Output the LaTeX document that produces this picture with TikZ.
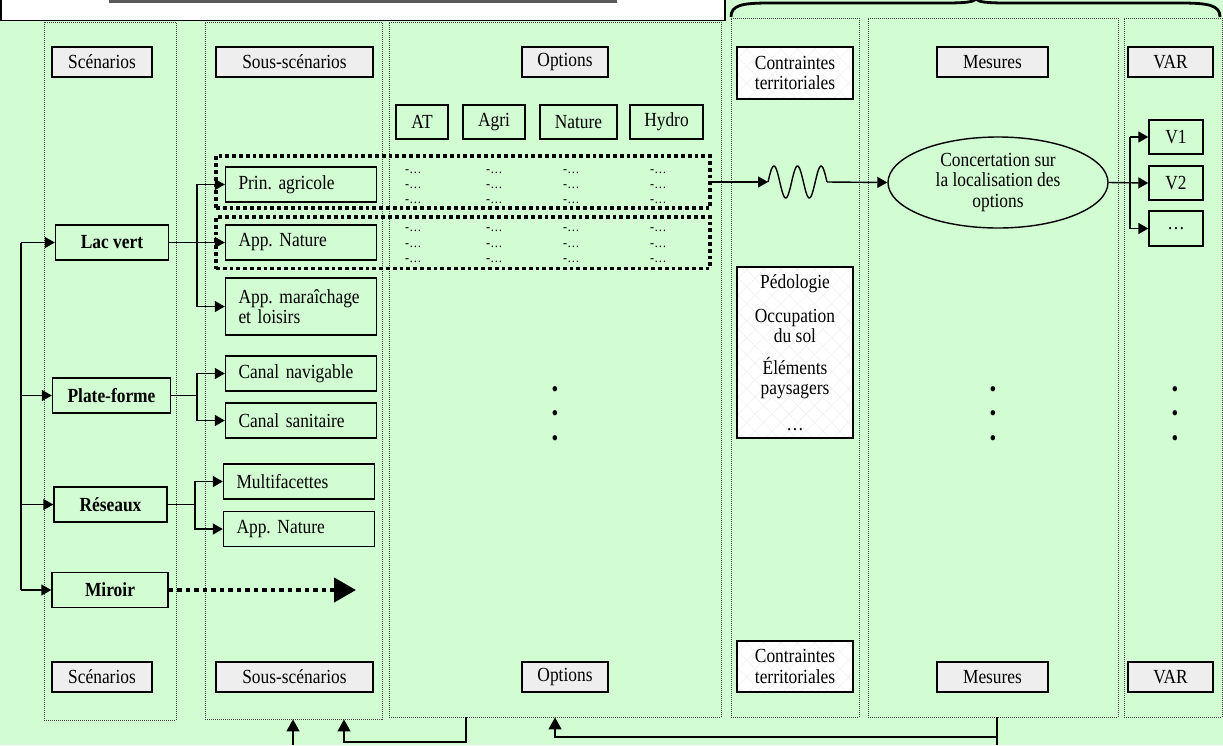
\documentclass[tikz,border=0pt]{standalone}
\usepackage{fontspec}
\setmainfont{Liberation Serif}[FakeStretch=0.87]
\usetikzlibrary{arrows.meta,shapes.geometric,fit,patterns.meta}
\definecolor{bg}{RGB}{210,252,210}
\definecolor{hdrgray}{RGB}{238,238,238}
\definecolor{bargray}{RGB}{90,90,90}
\begin{document}
\frenchspacing
\begin{tikzpicture}[x=1pt,y=-1pt, font=\fontsize{20}{20.5}\selectfont,
  col/.style={draw=black!75, line width=0.8pt, dash pattern=on 1pt off 1pt, inner sep=0pt},
  hdr/.style={draw, line width=1.4pt, fill=hdrgray, minimum height=30pt, inner sep=0pt},
  hatch/.style={draw, line width=1.4pt, inner sep=0pt,
     preaction={fill=white},
     preaction={pattern={Lines[angle=45,distance=12pt,line width=0.5pt]}, pattern color=black!6},
     preaction={pattern={Lines[angle=-45,distance=12pt,line width=0.5pt]}, pattern color=black!6}},
  box/.style={draw, line width=1.4pt, fill=bg, inner sep=0pt},
  sub/.style={box, minimum width=151pt, text width=125pt, align=left, inner xsep=13pt, minimum height=35pt},
  scen/.style={box, font=\fontsize{20}{20.5}\selectfont\bfseries, minimum height=35pt},
  arr/.style={line width=1.4pt, -{Triangle[length=10pt,width=11pt]}},
  arrb/.style={line width=1.4pt, -{Triangle[length=12pt,width=13pt]}},
  conn/.style={line width=1.4pt},
  thickdot/.style={draw, line width=3.8pt, dash pattern=on 3.8pt off 3pt, inner sep=0pt},
  dashtxt/.style={font=\fontsize{14}{15}\selectfont, anchor=west, inner sep=0pt},
  bul/.style={font=\fontsize{22}{22}\selectfont, inner sep=0pt}]
\useasboundingbox (0,0) rectangle (1223,745);
\fill[bg] (0,0) rectangle (1223,745);

% white box at top left
\fill[white] (0,0) rectangle (725,20.5);
\draw[line width=1.4pt] (1,-2) -- (1,20.5) -- (725,20.5) -- (725,-2);
\fill[bargray] (109,0) rectangle (617,2.8);

% brace
\draw[line width=2.8pt] (731,17) .. controls (731,5) and (742,3) .. (770,3) -- (945,3)
  .. controls (965,3) and (974,2) .. (976,-1)
  .. controls (978,2) and (987,3) .. (1007,3) -- (1180,3)
  .. controls (1208,3) and (1220,5) .. (1220,17);

% columns
\node[col, fit={(44,22) (176,720)}] (c1) {};
\node[col, fit={(205,22) (382,719)}] (c2) {};
\node[col, fit={(389,22) (721,717)}] (c3) {};
\node[col, fit={(731,18) (859,717)}] (c4) {};
\node[col, fit={(868,18) (1118,717)}] (c5) {};
\node[col, fit={(1124,18) (1222,717)}] (c6) {};

% top headers
\node[hdr, minimum width=100pt] (h1) at (102,62) {Scénarios};
\node[hdr, minimum width=157pt] (h2) at (294.5,62) {Sous-scénarios};
\node[hdr, minimum width=86pt] (h3) at (565,62) {Options};
\node[hatch, minimum width=116pt, minimum height=52pt, align=center] (h4) at (795,73) {Contraintes\\territoriales};
\node[hdr, minimum width=111pt] (h5) at (992.5,62) {Mesures};
\node[hdr, minimum width=85pt] (h6) at (1170.5,62) {VAR};

% bottom headers
\node[hdr, minimum width=100pt] (f1) at (102,677) {Scénarios};
\node[hdr, minimum width=157pt] (f2) at (294.5,677) {Sous-scénarios};
\node[hdr, minimum width=86pt] (f3) at (565,677) {Options};
\node[hatch, minimum width=116pt, minimum height=51pt, align=center] (f4) at (795,666.5) {Contraintes\\territoriales};
\node[hdr, minimum width=111pt] (f5) at (992.5,677) {Mesures};
\node[hdr, minimum width=85pt] (f6) at (1170.5,677) {VAR};

% option boxes
\node[box, minimum width=52pt, minimum height=34pt] (oat) at (422,122) {AT};
\node[box, minimum width=62pt, minimum height=34pt] (oag) at (494,122) {Agri};
\node[box, minimum width=77pt, minimum height=34pt] (ona) at (578.5,122) {Nature};
\node[box, minimum width=73pt, minimum height=34pt] (ohy) at (666.5,122) {Hydro};

% sub-scenarios
\node[sub] (pa) at (301,184.5) {Prin. agricole};
\node[sub] (an1) at (301,242.5) {App. Nature};
\node[sub, minimum height=57pt] (am) at (301,306.5) {App. maraîchage\\et loisirs};
\node[sub] (cn) at (301,373.5) {Canal navigable};
\node[sub] (cs) at (301,420.5) {Canal sanitaire};
\node[sub] (mf) at (299,481.5) {Multifacettes};
\node[sub] (an2) at (299,529) {App. Nature};

% scenarios
\node[scen, minimum width=113pt] (lv) at (112,242.5) {Lac vert};
\node[scen, minimum width=118pt] (pf) at (111.5,395.5) {Plate-forme};
\node[scen, minimum width=113pt] (rs) at (110.5,504.5) {Réseaux};
\node[scen, minimum width=116pt] (mr) at (110,590) {Miroir};

% dash entries
\foreach \xx in {405,486,563,650}{
  \foreach \yy in {172,187,202,230,246,261}{
    \node[dashtxt] (d-\xx-\yy) at (\xx,\yy) {-…};
  }
}
% dotted groups
\node[thickdot, fit={(216,156) (710,208)}] (g1) {};
\node[thickdot, fit={(216,217) (710,268.5)}] (g2) {};

% constraints list
\node[hatch, minimum width=116pt, minimum height=171pt, align=center] (ped) at (795,352.5)
  {Pédologie\\[13pt]Occupation\\du sol\\[11pt]Éléments\\paysagers\\[15pt]…};

% ellipse
\node[ellipse, draw, line width=1.4pt, fill=bg, minimum width=220pt, minimum height=91pt,
  inner sep=0pt, align=center] (ell) at (998,182.5) {Concertation sur\\la localisation des\\options};

% VAR boxes
\node[box, minimum width=54pt, minimum height=34pt] (v1) at (1176,137) {V1};
\node[box, minimum width=54pt, minimum height=34pt] (v2) at (1176,183) {V2};
\node[box, minimum width=54pt, minimum height=35pt] (v3) at (1176,228.5) {…};

% bullets
\foreach \xx/\nm in {555/o,993/m,1175/v}{
  \foreach \yy/\k in {392/a,416/b,441/c}{
    \node[bul] (b-\nm-\k) at (\xx,\yy) {•};
  }
}

% left spine
\coordinate (sp) at (21,0);
\draw[conn] (sp |- lv.west) -- (sp |- mr.west);
\draw[arr] (sp |- lv.west) -- (lv.west);
\draw[arr] (sp |- pf.west) -- (pf.west);
\draw[arr] (sp |- rs.west) -- (rs.west);
\draw[arr] (sp |- mr.west) -- (mr.west);

% Lac vert branches
\coordinate (blv) at (197,0);
\draw[arr] (lv.east) -- (an1.west);
\draw[arr] (blv |- lv.east) |- (pa.west);
\draw[arr] (blv |- lv.east) |- (am.west);

% Plate-forme branches
\coordinate (bpf) at (197,0);
\draw[conn] (pf.east) -- (bpf |- pf.east);
\draw[arr] (bpf |- pf.east) |- (cn.west);
\draw[arr] (bpf |- pf.east) |- (cs.west);

% Reseaux branches
\coordinate (brs) at (195,0);
\draw[conn] (rs.east) -- (brs |- rs.east);
\draw[arr] (brs |- rs.east) |- (mf.west);
\draw[arr] (brs |- rs.east) |- (an2.west);

% Miroir
\coordinate (mend) at (356,590);
\draw[line width=4.2pt, dash pattern=on 4.5pt off 4pt, -{Triangle[length=22pt,width=24pt]}] (mr.east) -- (mend);

% wave
\coordinate (w1) at (768,182);
\coordinate (w2) at (827,182);
\draw[arr] (g1.east) -- (w1);
\draw[conn] plot[domain=0:59, samples=90, smooth] ({768+\x},{182-16*sin(\x*15.254)});
\draw[arr] (w2) -- (ell.west);

% VAR branches
\coordinate (bv) at (1130,0);
\draw[arr] (ell.east) -- (v2.west);
\draw[conn] (bv |- v1.west) -- (bv |- v3.west);
\draw[arr] (bv |- v1.west) -- (v1.west);
\draw[arr] (bv |- v3.west) -- (v3.west);

% bottom feedback arrows
\coordinate (a1) at (293,745);
\draw[arrb] (a1) -- (a1 |- c2.south);
\coordinate (k1) at (466,742);
\coordinate (k2) at (344,742);
\draw[arrb] (k1 |- c3.south) -- (k1) -- (k2) -- (k2 |- c2.south);
\coordinate (m1) at (997,745);
\coordinate (m2) at (997,737);
\coordinate (m3) at (555,737);
\draw[conn] (m1) -- (m1 |- c5.south);
\draw[arrb] (m2) -- (m3) -- (m3 |- c3.south);
\end{tikzpicture}
\end{document}
